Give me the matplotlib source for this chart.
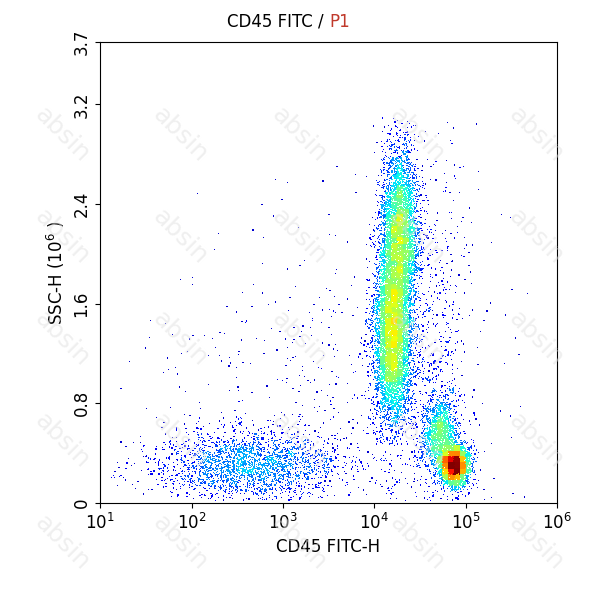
import numpy as np
import matplotlib
matplotlib.use("Agg")
import matplotlib.pyplot as plt

# cluster descriptions: centre (log10 x), sd, centre y (1e6), sd y, count
cl_logx = [4.20, 4.28, 4.88, 4.72, 2.65, 3.5, 4.55]
cl_sdx = [0.10, 0.10, 0.08, 0.10, 0.50, 0.9, 0.28]
cl_y = [1.35, 2.15, 0.30, 0.55, 0.30, 0.9, 1.2]
cl_sdy = [0.35, 0.35, 0.08, 0.15, 0.14, 0.7, 0.8]
cl_n = [6000, 4500, 3000, 1500, 2500, 500, 900]

rng = np.random.default_rng(3)
xs, ys = [], []
for mx, sx, my, sy, n in zip(cl_logx, cl_sdx, cl_y, cl_sdy, cl_n):
    xs.append(rng.normal(mx, sx, n))
    ys.append(rng.normal(my, sy, n))
lx = np.concatenate(xs)
y = np.concatenate(ys)
keep = (y > 0.02) & (y < 3.1) & (lx > 1.05) & (lx < 5.95)
lx, y = lx[keep], y[keep]

# density colouring
H, xe, ye = np.histogram2d(lx, y, bins=[80, 80], range=[[1, 6], [0, 3.7]])
ix = np.clip(np.digitize(lx, xe) - 1, 0, 79)
iy = np.clip(np.digitize(y, ye) - 1, 0, 79)
d = H[ix, iy] / H.max()
order = np.argsort(d)
lx, y, d = lx[order], y[order], d[order]

fig = plt.figure(figsize=(5.93, 6.0), dpi=100)
ax = fig.add_axes([0.169, 0.162, 0.77, 0.768])
ax.scatter(10 ** lx, y * 1e6, c=d ** 0.5, cmap="jet", vmin=0, vmax=1.0,
           s=0.8, marker="s", linewidths=0)
ax.set_xscale("log")
ax.set_xlim(10, 1e6)
ax.set_ylim(0, 3.7e6)
ax.set_yticks([0, 0.8e6, 1.6e6, 2.4e6, 3.2e6, 3.7e6])
ax.set_yticklabels(["0", "0.8", "1.6", "2.4", "3.2", "3.7"], rotation=90, va="center")
ax.minorticks_off()
ax.tick_params(labelsize=12)
ax.set_xlabel("CD45 FITC-H", fontsize=12)
ax.set_ylabel("SSC-H (10$^6$ )", fontsize=12)

fig.text(0.555, 0.955, "CD45 FITC / ", ha="right", fontsize=12)
fig.text(0.555, 0.955, "P1", ha="left", fontsize=12, color="#c0392b")

for gx in np.arange(0.05, 0.9, 0.2):
    for gy in np.arange(0.05, 0.85, 0.17):
        fig.text(gx, gy, "absin", rotation=-45, fontsize=18,
                 color="#e0e0e0", alpha=0.5, zorder=10)

fig.savefig("out.png", dpi=100)
